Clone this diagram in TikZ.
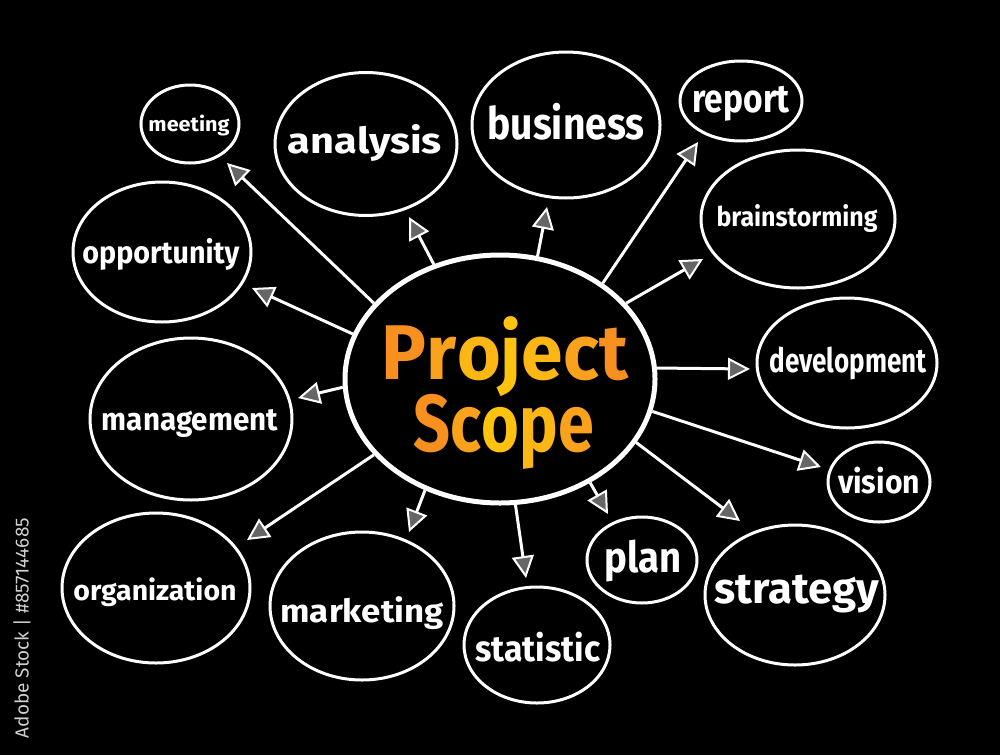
\documentclass[tikz,border=0pt]{standalone}
\usepackage{fontspec}
\setmainfont{Fira Sans}
\usetikzlibrary{arrows.meta,shapes.geometric}
\definecolor{oA}{HTML}{F7901E}
\definecolor{oB}{HTML}{FAA21B}
\definecolor{oC}{HTML}{FDB714}
\definecolor{oD}{HTML}{FFC20E}
\definecolor{wm}{HTML}{D0D0D0}
\definecolor{headfill}{HTML}{666666}
\newcommand\fitw[2]{\resizebox{#1pt}{!}{#2}}
\newcommand\fitwh[3]{\resizebox*{#1pt}{#2pt}{\bfseries #3}}
\begin{document}
\begin{tikzpicture}[x=1pt,y=-1pt,
  bub/.style={draw=white, line width=3pt, ellipse, inner sep=0pt},
  hub/.style={draw=white, line width=5pt, ellipse, inner sep=0pt, minimum width=310pt, minimum height=248pt},
  lbl/.style={text=white, inner sep=0pt},
  conn/.style={draw=white, line width=3pt, -{Triangle[length=22pt,width=22pt,line width=2pt,fill=headfill]}},
]
\fill[black] (0,0) rectangle (1000,755);
\useasboundingbox (0,0) rectangle (1000,755);

% watermark id
\node[rotate=90, text=wm, inner sep=0pt] (wmk) at (22,628) {\fitw{220}{Adobe Stock | \#857144685}};

% center
\node[hub] (hub) at (500,379) {};
\node[inner sep=0pt] (t1) at (505,357) {\fitwh{246}{80}{\textcolor{oA}{P}\textcolor{oB}{r}\textcolor{oC}{o}\textcolor{oD}{j}\textcolor{oC}{e}\textcolor{oB}{c}\textcolor{oA}{t}}};
\node[inner sep=0pt] (t2) at (504,432) {\fitwh{180}{75}{\textcolor{oA}{S}\textcolor{oB}{c}\textcolor{oD}{o}\textcolor{oC}{p}\textcolor{oB}{e}}};

% bubbles
\node[bub, minimum width=98pt, minimum height=78pt] (meeting) at (190,124) {};
\node[bub, minimum width=182pt, minimum height=143pt] (analysis) at (366,144) {};
\node[bub, minimum width=188pt, minimum height=146pt] (business) at (566,125) {};
\node[bub, minimum width=122pt, minimum height=80pt] (report) at (741,101) {};
\node[bub, minimum width=194pt, minimum height=138pt] (brain) at (798,219) {};
\node[bub, minimum width=180pt, minimum height=130pt] (devel) at (847,363) {};
\node[bub, minimum width=102pt, minimum height=80pt] (vision) at (879,482) {};
\node[bub, minimum width=180pt, minimum height=140pt] (strat) at (795,595) {};
\node[bub, minimum width=110pt, minimum height=86pt] (plan) at (642,560) {};
\node[bub, minimum width=146pt, minimum height=116pt] (stat) at (537,645) {};
\node[bub, minimum width=184pt, minimum height=148pt] (market) at (362,606) {};
\node[bub, minimum width=188pt, minimum height=150pt] (organ) at (156,588) {};
\node[bub, minimum width=202pt, minimum height=162pt] (manag) at (191,419) {};
\node[bub, minimum width=178pt, minimum height=140pt] (oppor) at (162,252) {};

% labels
\node[lbl] (lmeeting) at (189,126) {\fitwh{81}{21}{meeting}};
\node[lbl] (lanalysis) at (365,143) {\fitwh{154}{37}{analysis}};
\node[lbl] (lbusiness) at (566,122) {\fitwh{157}{37}{business}};
\node[lbl] (lreport) at (741,104) {\fitwh{97}{35}{report}};
\node[lbl] (lbrain) at (797,219) {\fitwh{161}{28}{brainstorming}};
\node[lbl] (ldevel) at (848,363) {\fitwh{157}{33}{development}};
\node[lbl] (lvision) at (879,481) {\fitwh{82}{27}{vision}};
\node[lbl] (lstrat) at (797,594) {\fitwh{165}{38}{strategy}};
\node[lbl] (lplan) at (643,561) {\fitwh{77}{42}{plan}};
\node[lbl] (lstat) at (538,647) {\fitwh{125}{30}{statistic}};
\node[lbl] (lmarket) at (362,613) {\fitwh{163}{33}{marketing}};
\node[lbl] (lorgan) at (155,592) {\fitwh{163}{29}{organization}};
\node[lbl] (lmanag) at (190,424) {\fitwh{176}{28}{management}};
\node[lbl] (loppor) at (161,254) {\fitwh{157}{32}{opportunity}};

% arrow tips
\coordinate (tmeeting) at (227,163);
\coordinate (tanalysis) at (409,217);
\coordinate (tbusiness) at (547,207);
\coordinate (treport) at (698,142);
\coordinate (tbrain) at (703,259);
\coordinate (tdevel) at (750,369);
\coordinate (tvision) at (821,467);
\coordinate (tstrat) at (740,521);
\coordinate (tplan) at (608,514);
\coordinate (tstat) at (526,578);
\coordinate (tmarket) at (409,532);
\coordinate (torgan) at (247,540);
\coordinate (tmanag) at (298,398);
\coordinate (toppor) at (252,288);

% connectors
\draw[conn] (hub.149) -- (tmeeting);
\draw[conn] (hub.120) -- (tanalysis);
\draw[conn] (hub.73) -- (tbusiness);
\draw[conn] (hub.43) -- (treport);
\draw[conn] (hub.31) -- (tbrain);
\draw[conn] (hub.4) -- (tdevel);
\draw[conn] (hub.-12) -- (tvision);
\draw[conn] (hub.-25) -- (tstrat);
\draw[conn] (hub.-49) -- (tplan);
\draw[conn] (hub.-83) -- (tstat);
\draw[conn] (hub.236) -- (tmarket);
\draw[conn] (hub.211) -- (torgan);
\draw[conn] (hub.183) -- (tmanag);
\draw[conn] (hub.163) -- (toppor);
\end{tikzpicture}
\end{document}
